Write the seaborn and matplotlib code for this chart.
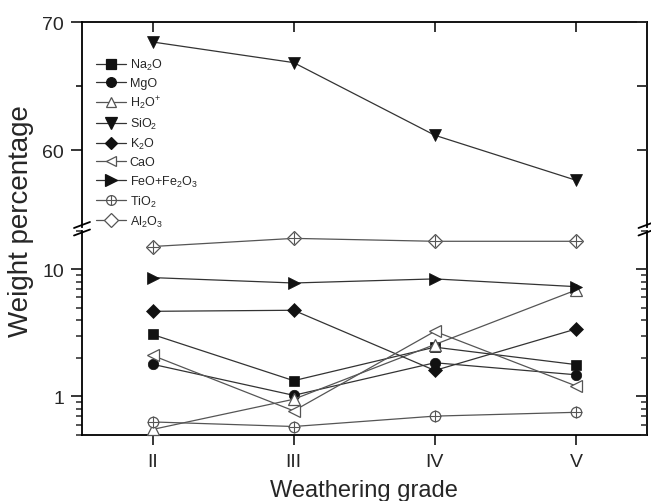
import matplotlib
matplotlib.use("Agg")
import matplotlib.pyplot as plt
from matplotlib.lines import Line2D
from matplotlib.legend_handler import HandlerTuple
from matplotlib.ticker import FixedLocator, LogLocator, NullFormatter, FixedFormatter
import seaborn as sns
import numpy as np

# ---------------- data ----------------
grades = ["II", "III", "IV", "V"]
grade_pos = [2, 3, 4, 5]

na2o = [3.07, 1.33, 2.44, 1.78]
mgo = [1.79, 1.02, 1.84, 1.48]
h2o = [0.55, 0.95, 2.56, 6.86]
sio2 = [68.44, 66.83, 61.16, 57.65]
k2o = [4.67, 4.76, 1.60, 3.39]
cao = [2.10, 0.77, 3.25, 1.21]
feo = [8.6, 7.8, 8.4, 7.3]
tio2 = [0.63, 0.58, 0.70, 0.75]
al2o3 = [15.1, 17.5, 16.6, 16.6]

labels = ["Na$_2$O", "MgO", "H$_2$O$^{+}$", "SiO$_2$", "K$_2$O", "CaO",
          "FeO+Fe$_2$O$_3$", "TiO$_2$", "Al$_2$O$_3$"]

# ---------------- style ----------------
sns.set_theme(style="ticks")
plt.rcParams["font.family"] = ["Liberation Sans", "DejaVu Sans"]
plt.rcParams["mathtext.fontset"] = "custom"
plt.rcParams["mathtext.rm"] = "Liberation Sans"
plt.rcParams["mathtext.it"] = "Liberation Sans:italic"
plt.rcParams["mathtext.bf"] = "Liberation Sans:bold"

BLK = "#111111"
GRY = "#555555"
LINE = "#333333"

# values, marker, filled, size, which axis
series = [
    (na2o, "s", True, 7, "bot"),
    (mgo, "o", True, 7.5, "bot"),
    (h2o, "^", False, 8, "bot"),
    (sio2, "v", True, 9, "top"),
    (k2o, "D", True, 7, "bot"),
    (cao, "<", False, 8, "bot"),
    (feo, ">", True, 9, "bot"),
    (tio2, "o", False, 7.5, "bot"),
    (al2o3, "D", False, 7.5, "bot"),
]

fig = plt.figure(figsize=(6.51, 5.02), dpi=100)
W, H = 651.0, 502.0
x0 = 82.0 / W
x1 = 646.5 / W
ax_top = fig.add_axes([x0, 1 - 228 / H, x1 - x0, (228 - 23) / H])
ax_bot = fig.add_axes([x0, 1 - 435.7 / H, x1 - x0, (435.7 - 232) / H])

handles = []
for (vals, mk, filled, ms, which), lab in zip(series, labels):
    ax = ax_top if which == "top" else ax_bot
    col = BLK if filled else GRY
    lcol = LINE if filled else GRY
    sns.lineplot(x=grade_pos, y=vals, ax=ax, color=lcol, lw=0.9,
                 marker=mk, markersize=ms,
                 markerfacecolor=col if filled else "white",
                 markeredgecolor=col, markeredgewidth=0.9 if not filled else 0.5,
                 legend=False, zorder=3, clip_on=False)
    h = Line2D([], [], color=lcol, lw=0.9, marker=mk, markersize=ms - 0.5,
               markerfacecolor=col if filled else "white", markeredgecolor=col,
               markeredgewidth=0.9)
    if lab in ("TiO$_2$", "Al$_2$O$_3$"):
        sns.lineplot(x=grade_pos, y=vals, ax=ax, color=col, lw=0,
                     marker="+", markersize=ms + 0.5, markeredgewidth=0.8,
                     markeredgecolor=col, legend=False, zorder=4, clip_on=False)
    if lab == "TiO$_2$":
        hp = Line2D([], [], lw=0, marker="+", markersize=ms, color=col,
                    markeredgewidth=0.8)
        h = (h, hp)
    handles.append(h)

# ---------------- axes ----------------
for ax in (ax_top, ax_bot):
    ax.set_xlim(1.5, 5.5)
    ax.set_xticks(grade_pos)
    for s in ax.spines.values():
        s.set_linewidth(1.3)
        s.set_color("black")
    ax.set_facecolor("none")
    ax.set_xlabel("")
    ax.set_ylabel("")

# top (linear) part
ax_top.set_ylim(54, 70)
ax_top.yaxis.set_major_locator(FixedLocator([60, 70]))
ax_top.yaxis.set_minor_locator(FixedLocator([65]))
ax_top.spines["bottom"].set_visible(False)
ax_top.tick_params(axis="x", which="both", bottom=False, top=True,
                   direction="in", labelbottom=False, length=7, width=1.3)
ax_top.tick_params(axis="y", which="major", left=True, right=False,
                   direction="out", length=8, width=1.3, labelsize=14, pad=5)
ax_top.tick_params(axis="y", which="minor", left=True, right=False,
                   direction="out", length=4.5, width=1.3)

# bottom (log) part
ax_bot.set_yscale("log")
ax_bot.set_ylim(0.5, 20)
ax_bot.yaxis.set_major_locator(FixedLocator([1, 10]))
ax_bot.yaxis.set_major_formatter(FixedFormatter(["1", "10"]))
ax_bot.yaxis.set_minor_locator(LogLocator(base=10, subs=np.arange(2, 10)))
ax_bot.yaxis.set_minor_formatter(NullFormatter())
ax_bot.spines["top"].set_visible(False)
ax_bot.set_xticklabels(grades)
ax_bot.tick_params(axis="x", which="both", bottom=True, top=False,
                   direction="out", length=7, width=1.3, labelsize=14, pad=6)
ax_bot.tick_params(axis="y", which="major", left=True, right=False,
                   direction="out", length=8, width=1.3, labelsize=14, pad=5)
ax_bot.tick_params(axis="y", which="minor", left=True, right=False,
                   direction="out", length=4.5, width=1.1)

# right-hand mirrored ticks pointing inward
tw_top = ax_top.twinx()
tw_top.set_ylim(ax_top.get_ylim())
tw_top.yaxis.set_major_locator(FixedLocator([60, 70]))
tw_top.yaxis.set_minor_locator(FixedLocator([65]))
tw_top.tick_params(axis="y", which="both", direction="in", length=7,
                   width=1.3, labelright=False)
tw_bot = ax_bot.twinx()
tw_bot.set_yscale("log")
tw_bot.set_ylim(ax_bot.get_ylim())
tw_bot.yaxis.set_major_locator(FixedLocator([1, 10]))
tw_bot.yaxis.set_minor_locator(LogLocator(base=10, subs=np.arange(2, 10)))
tw_bot.yaxis.set_minor_formatter(NullFormatter())
tw_bot.tick_params(axis="y", which="major", direction="in", length=8,
                   width=1.3, labelright=False)
tw_bot.tick_params(axis="y", which="minor", direction="in", length=4.5,
                   width=1.1, labelright=False)
for tw in (tw_top, tw_bot):
    for s in tw.spines.values():
        s.set_visible(False)

# ---------------- break marks ----------------
for xp in (82.0, 646.5):
    for yp in (226.0, 233.5):
        fig.add_artist(Line2D([(xp - 8) / W, (xp + 8) / W],
                              [1 - (yp + 3) / H, 1 - (yp - 3) / H],
                              transform=fig.transFigure, color="black",
                              lw=1.3, clip_on=False))

# ---------------- labels ----------------
fig.text((82 + 646.5) / 2 / W, 1 - 491 / H, "Weathering grade",
         ha="center", va="center", fontsize=17)
fig.text(21 / W, 1 - 221 / H, "Weight percentage", rotation=90,
         ha="center", va="center", fontsize=20)

# ---------------- legend ----------------
leg = fig.legend(handles, labels, loc="upper left",
                 bbox_to_anchor=(96 / W, 1 - 58 / H),
                 bbox_transform=fig.transFigure, frameon=False,
                 fontsize=9, handlelength=2.4, handletextpad=0.3,
                 labelspacing=0.4, borderpad=0, borderaxespad=0,
                 handler_map={tuple: HandlerTuple(ndivide=1, pad=0)})
leg.set_zorder(10)

fig.savefig("out.png", dpi=100)
